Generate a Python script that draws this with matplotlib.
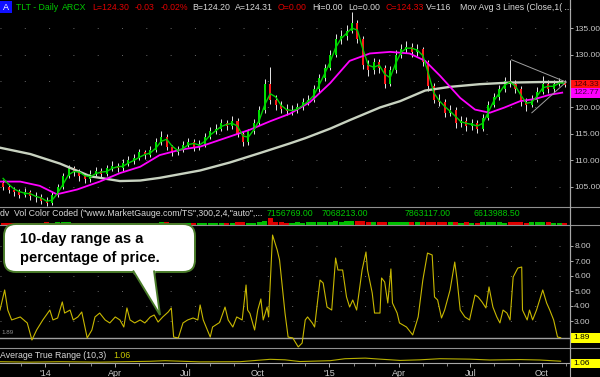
import numpy as np
import pandas as pd
import matplotlib
matplotlib.use("Agg")
import matplotlib.pyplot as plt
import matplotlib.dates as mdates
from matplotlib.patches import FancyBboxPatch, Polygon, Rectangle

plt.rcParams['font.family'] = ['Liberation Sans', 'DejaVu Sans']

# weekly TLT bars (open = previous close), Nov 2013 - Oct 2015
first_open = 105.8
week_close = [105.0, 104.5, 104.0, 103.5, 104.0, 103.2, 103.0, 102.3, 102.0, 103.5,
              105.0, 107.0, 108.5, 107.8, 107.0, 106.5, 107.5, 108.0, 107.5, 108.5,
              109.0, 108.5, 109.5, 110.0, 110.5, 111.5, 111.0, 112.0, 113.5, 114.5,
              112.5, 111.5, 112.0, 113.0, 113.5, 112.5, 113.0, 114.5, 115.5, 116.0,
              117.0, 116.5, 117.5, 115.0, 113.5, 115.5, 117.0, 119.5, 124.5, 121.5,
              120.5, 119.8, 119.3, 119.5, 120.0, 121.0, 121.5, 123.5, 125.5, 127.5,
              130.0, 133.0, 133.5, 134.5, 136.0, 133.0, 128.0, 127.0, 128.5, 127.5,
              124.5, 127.0, 130.0, 131.0, 131.5, 130.5, 131.0, 128.5, 124.0, 121.5,
              121.0, 119.0, 119.5, 117.0, 117.5, 116.5, 117.0, 116.0, 118.0, 120.5,
              122.0, 123.5, 125.0, 124.5, 123.5, 121.0, 120.5, 121.5, 123.0, 124.5,
              123.5, 124.5, 124.8, 124.3]
week_high = [106.3, 105.6, 105.0, 104.6, 104.8, 104.5, 104.0, 103.6, 103.0, 104.0,
             105.6, 107.6, 109.2, 109.0, 108.4, 107.6, 108.2, 108.8, 108.6, 109.1,
             109.8, 109.6, 110.2, 110.8, 111.2, 112.2, 112.0, 112.8, 114.2, 115.5,
             115.0, 113.0, 112.8, 113.7, 114.3, 114.0, 113.8, 115.1, 116.3, 116.8,
             117.8, 117.6, 118.3, 118.0, 115.6, 116.0, 117.8, 120.2, 125.3, 127.6,
             122.3, 121.2, 120.6, 120.4, 120.9, 121.8, 122.4, 124.2, 126.3, 128.3,
             130.9, 133.9, 134.6, 135.6, 138.0, 136.5, 133.5, 128.9, 129.4, 129.2,
             128.0, 127.8, 130.8, 131.9, 132.5, 132.2, 131.9, 131.5, 129.0, 124.6,
             122.5, 121.6, 120.4, 120.0, 118.4, 118.2, 117.9, 117.6, 118.7, 121.2,
             122.8, 124.3, 125.8, 129.0, 125.2, 124.0, 121.8, 122.3, 123.8, 126.0,
             125.2, 125.2, 125.5, 125.2]
week_low = [104.4, 103.9, 103.3, 102.9, 103.0, 102.6, 102.2, 101.7, 101.4, 101.6,
            103.0, 104.6, 106.6, 107.0, 106.2, 105.8, 106.0, 107.0, 106.8, 107.0,
            108.0, 107.8, 108.0, 109.0, 109.4, 110.0, 110.3, 110.6, 111.6, 113.0,
            112.0, 110.8, 111.0, 111.6, 112.5, 111.8, 112.0, 112.6, 114.0, 115.0,
            115.6, 115.8, 116.0, 114.5, 112.8, 113.0, 115.0, 116.6, 119.0, 120.6,
            119.5, 118.9, 118.5, 118.6, 119.0, 119.5, 120.4, 121.0, 123.0, 125.0,
            127.0, 129.5, 132.0, 132.8, 134.0, 132.2, 127.2, 126.0, 126.4, 126.6,
            123.6, 124.0, 126.5, 129.3, 130.3, 129.6, 129.8, 127.8, 123.2, 120.8,
            120.2, 118.2, 118.4, 116.2, 116.4, 115.6, 115.8, 115.2, 115.6, 117.6,
            120.0, 121.5, 123.0, 123.8, 122.8, 120.2, 119.4, 120.0, 121.0, 122.6,
            122.8, 123.0, 124.0, 123.8]
week_volume = [7, 6, 7, 8, 7, 8, 6, 7, 9, 8, 9, 10, 9, 8, 7, 8, 7, 8, 7, 7,
               7, 6, 7, 7, 6, 7, 8, 7, 8, 9, 9, 8, 7, 7, 6, 7, 6, 7, 8, 8,
               8, 7, 7, 9, 9, 8, 8, 9, 12, 22, 11, 9, 8, 8, 9, 8, 9, 10, 9, 10,
               11, 12, 11, 12, 14, 13, 12, 11, 10, 10, 11, 10, 10, 9, 9, 10, 10, 10, 11, 11,
               10, 10, 9, 9, 8, 9, 8, 8, 9, 9, 10, 9, 8, 11, 10, 9, 8, 9, 9, 10,
               9, 8, 8, 7]
green_ma = [106.6, 105.5, 104.6, 104.1, 103.8, 103.7, 103.2, 102.9, 102.3, 102.5,
            103.8, 105.5, 107.3, 107.9, 107.8, 107.1, 106.9, 107.5, 107.8, 107.9,
            108.5, 108.8, 108.9, 109.5, 110.0, 110.6, 111.1, 111.4, 112.3, 113.6,
            114.0, 112.7, 111.9, 112.2, 113.0, 113.2, 112.9, 113.6, 114.8, 115.6,
            116.4, 116.8, 117.0, 116.5, 114.6, 114.4, 115.8, 117.6, 120.5, 122.6,
            122.0, 120.4, 119.6, 119.4, 119.7, 120.4, 121.2, 122.3, 124.3, 126.4,
            128.6, 131.3, 133.0, 134.0, 135.0, 134.6, 131.0, 128.0, 127.6, 128.0,
            126.3, 125.6, 128.3, 130.4, 131.2, 131.2, 130.8, 129.8, 126.5, 122.8,
            121.3, 120.2, 119.3, 118.3, 117.3, 117.0, 116.8, 116.5, 117.0, 119.1,
            121.2, 122.7, 124.2, 124.8, 124.0, 122.3, 120.8, 121.0, 122.2, 123.7,
            124.0, 124.0, 124.6, 124.6]

# longer averages, days since 2013-11-04
magenta_day = [0, 26, 51, 73, 99, 128, 154, 180, 205, 231, 257, 289, 321, 347, 372, 398,
               424, 449, 475, 501, 526, 546, 565, 591, 610, 629, 648, 668, 687, 706, 722]
magenta_ma = [106.0, 106.0, 105.2, 103.6, 104.5, 106.0, 107.6, 108.8, 111.0, 112.0, 112.6,
              114.2, 115.8, 117.4, 118.8, 121.0, 124.6, 128.8, 130.2, 130.5, 130.2, 128.8,
              126.0, 121.8, 119.6, 119.0, 120.0, 121.2, 121.6, 122.4, 122.8]
gray_day = [0, 39, 77, 116, 154, 180, 205, 231, 257, 295, 334, 372, 392, 424, 449, 488,
            514, 546, 578, 616, 655, 693, 722]
gray_ma = [112.4, 111.2, 109.4, 107.0, 106.1, 106.2, 106.7, 107.4, 108.1, 109.6, 111.4,
           113.2, 114.2, 116.0, 117.6, 120.0, 121.2, 123.2, 123.9, 124.4, 124.7, 124.8, 124.8]

tri_upper_day = [657, 727]
tri_upper = [129.0, 124.8]
tri_lower_day = [683, 727]
tri_lower = [119.0, 124.8]

# 10-day range as % of price
range_day = [0, 6, 10, 15, 26, 35, 41, 47, 55, 64, 68, 74, 80, 83, 90, 94, 100, 105, 112, 118,
             122, 128, 135, 141, 148, 154, 159, 163, 167, 173, 180, 186, 193, 198, 203, 209, 216,
             220, 223, 229, 235, 241, 248, 254, 257, 261, 270, 273, 282, 289, 293, 299, 304, 311,
             316, 318, 321, 327, 331, 335, 338, 343, 345, 350, 356, 359, 362, 366, 370, 376, 383,
             388, 392, 395, 401, 404, 411, 415, 420, 426, 431, 434, 440, 445, 449, 453, 458, 465,
             470, 472, 478, 481, 488, 490, 494, 498, 502, 504, 510, 513, 522, 530, 537, 543, 549,
             555, 558, 562, 567, 571, 578, 584, 587, 591, 597, 603, 610, 614, 619, 624, 628, 633,
             638, 642, 646, 651, 655, 659, 665, 670, 671, 677, 680, 684, 689, 693, 697, 702, 706,
             711, 716, 720]
range_pct = [3.73, 5.07, 3.73, 3.07, 3.27, 2.87, 1.73, 2.4, 3.07, 3.73, 3.07, 3.2, 4.27, 3.53,
             3.73, 3.07, 3.27, 3.6, 1.87, 2.4, 3.27, 3.53, 3.07, 2.87, 3.27, 3.07, 2.6, 3.87,
             3.07, 2.87, 3.07, 2.87, 3.27, 3.4, 2.93, 3.27, 3.6, 3.87, 1.93, 1.87, 2.87, 3.07,
             3.2, 3.07, 4.07, 3.07, 1.93, 2.6, 2.9, 3.93, 3.07, 2.6, 3.27, 3.07, 5.4, 3.73, 3.5,
             2.4, 3.73, 4.47, 3.07, 3.93, 3.27, 8.73, 7.73, 7.07, 5.53, 3.53, 1.93, 1.87, 1.27,
             1.53, 3.07, 3.27, 2.87, 2.6, 5.73, 5.53, 3.93, 3.73, 7.2, 6.4, 6.4, 4.6, 3.93, 4.4,
             3.73, 6.4, 7.6, 6.4, 4.87, 3.53, 3.53, 5.87, 5.6, 4.2, 6.47, 4.2, 3.53, 2.87, 2.6,
             2.07, 3.27, 5.73, 7.53, 7.4, 4.6, 4.4, 3.2, 3.73, 5.07, 6.93, 5.73, 3.73, 3.27, 3.07,
             4.73, 4.6, 4.27, 3.87, 5.27, 3.93, 3.27, 2.87, 3.73, 3.53, 3.07, 5.93, 6.53, 6.6,
             3.73, 3.07, 3.73, 3.07, 3.73, 4.4, 5.07, 4.2, 3.73, 3.07, 1.93, 1.89]

atr_day = [0, 39, 77, 128, 193, 212, 257, 308, 347, 366, 385, 424, 443, 469, 488, 514, 539,
           565, 603, 629, 668, 693, 712, 720]
atr_val = [1.0, 0.95, 1.0, 0.95, 1.05, 1.12, 0.98, 1.0, 1.28, 1.22, 1.02, 1.12, 1.35, 1.42,
           1.3, 1.15, 1.22, 1.35, 1.3, 1.2, 1.25, 1.2, 1.1, 1.06]

price_ticks = [105, 110, 115, 120, 125, 130, 135]
range_ticks = [3, 4, 5, 6, 7, 8]
quarter_dates = ["2014-01-01", "2014-04-01", "2014-07-01", "2014-10-01",
                 "2015-01-01", "2015-04-01", "2015-07-01", "2015-10-01"]
quarter_labels = ["'14", "Apr", "Jul", "Oct", "'15", "Apr", "Jul", "Oct"]
vol_numbers = ["7156769.00", "7068213.00", "7863117.00", "6613988.50"]

W, H = 600, 377
GREEN, RED, LIGHT, GRID = '#00c800', '#e00000', '#d8d8d8', '#6a6a6a'
t0 = pd.Timestamp("2013-11-04")


def to_dates(days):
    return t0 + pd.to_timedelta(days, unit="D")


def box(x0, y0, x1, y1):
    return [x0 / W, 1 - y1 / H, (x1 - x0) / W, (y1 - y0) / H]


def value_box(ax, val, text, fc, tc, h):
    tr = ax.get_yaxis_transform()
    ax.add_patch(Rectangle((1.0, val - h / 2), 30 / 570, h, transform=tr, facecolor=fc,
                           edgecolor='none', clip_on=False, zorder=6))
    if text:
        ax.text(1.005, val, text, transform=tr, color=tc, fontsize=6.0, va='center',
                ha='left', clip_on=False, zorder=7)


fig = plt.figure(figsize=(W / 100, H / 100), dpi=100, facecolor='black')
ax_p = fig.add_axes(box(0, 0, 570, 207))
ax_v = fig.add_axes(box(0, 207, 570, 225), sharex=ax_p)
ax_r = fig.add_axes(box(0, 225, 570, 348), sharex=ax_p)
ax_a = fig.add_axes(box(0, 348, 570, 363), sharex=ax_p)

for ax in (ax_p, ax_v, ax_r, ax_a):
    ax.set_facecolor('black')
    for side, sp in ax.spines.items():
        sp.set_visible(side == 'right')
    ax.spines['right'].set_color('#a8a8a8')
    ax.spines['right'].set_linewidth(0.8)
    ax.yaxis.tick_right()
    ax.tick_params(axis='y', colors='#c8c8c8', labelsize=6.0, length=2.5, width=0.6, pad=0.5)
    ax.tick_params(axis='x', which='both', bottom=False, labelbottom=False)

# price panel
wk = pd.date_range("2013-11-08", periods=len(week_close), freq="7D")
c = np.array(week_close)
o = np.array([first_open] + week_close[:-1])
up = c >= o
ax_p.vlines(wk, week_low, week_high, color='#e8e8e8', lw=0.7, zorder=2)
ax_p.bar(wk, np.maximum(np.abs(c - o), 0.25), bottom=np.minimum(o, c), width=2.6,
         color=np.where(up, '#00e000', '#ff1a1a'), linewidth=0, zorder=3)
ax_p.plot(to_dates(gray_day), gray_ma, color='#c8d2c0', lw=1.7, zorder=4)
ax_p.plot(to_dates(magenta_day), magenta_ma, color='#ff00ff', lw=1.3, zorder=4)
ax_p.plot(wk, green_ma, color='#00d000', lw=1.0, zorder=5)
ax_p.plot(to_dates(tri_upper_day), tri_upper, color='#a0a0a0', lw=0.7, zorder=5)
ax_p.plot(to_dates(tri_lower_day), tri_lower, color='#a0a0a0', lw=0.7, zorder=5)
ax_p.set_ylim(101.2, 140.3)
ax_p.set_yticks(price_ticks)
# the 125.00 label sits behind the last-price box, as in the original
ax_p.set_yticklabels(["" if v == 125 else f"{v:.2f}" for v in price_ticks])
ax_p.grid(axis='y', color=GRID, linestyle=(0, (1, 24)), linewidth=0.7, zorder=0)
value_box(ax_p, green_ma[-1] - 0.6, "", '#00c800', 'black', 1.7)
value_box(ax_p, 124.33, "124.33", '#ff1010', '#500000', 1.7)
value_box(ax_p, 122.77, "122.77", '#ff00ff', '#400040', 1.8)

# volume strip
ax_v.bar(wk, week_volume, width=6.5, color=np.where(up, '#00c000', '#e00000'), linewidth=0)
ax_v.set_ylim(0, 60)
ax_v.set_yticks([])

# range panel
ax_r.plot(to_dates(range_day), range_pct, color='#c8b800', lw=0.8, zorder=3)
ax_r.axhline(range_pct[-1], color='#a0a0a0', lw=1.0, zorder=2)
ax_r.set_ylim(1.2, 9.4)
ax_r.set_yticks(range_ticks)
ax_r.set_yticklabels([f"{v:.2f}" for v in range_ticks])
ax_r.grid(axis='y', color=GRID, linestyle=(0, (1, 24)), linewidth=0.7, zorder=0)
value_box(ax_r, range_pct[-1], f"{range_pct[-1]:.2f}", '#ffff00', 'black', 0.67)

# ATR panel
ax_a.plot(to_dates(atr_day), atr_val, color='#b8b000', lw=0.8)
ax_a.set_ylim(0.85, 2.6)
ax_a.set_yticks([])
value_box(ax_a, atr_val[-1] - 0.25, f"{atr_val[-1]:.2f}", '#ffff00', 'black', 1.1)
ax_a.spines['bottom'].set_visible(True)
ax_a.spines['bottom'].set_color('#a8a8a8')
ax_a.spines['bottom'].set_linewidth(0.8)
ax_a.set_xticks(pd.to_datetime(quarter_dates))
ax_a.set_xticklabels(quarter_labels)
ax_a.xaxis.set_minor_locator(mdates.MonthLocator())
ax_a.tick_params(axis='x', which='major', bottom=True, labelbottom=True, colors='#c8c8c8',
                 labelsize=6.5, length=3, width=0.6, pad=1)
ax_a.tick_params(axis='x', which='minor', bottom=True, colors='#a0a0a0', length=2, width=0.6)
ax_a.set_xlim(t0, t0 + pd.Timedelta(days=732))

# overlay in pixel units for the header texts, separators and the callout
ov = fig.add_axes([0, 0, 1, 1])
ov.set_xlim(0, W)
ov.set_ylim(H, 0)
ov.axis('off')
ov.patch.set_alpha(0)

for yy in (207, 225, 348):
    ov.plot([0, W], [yy, yy], color='#909090', lw=0.8)
ov.plot([570, 570], [0, H], color='#a8a8a8', lw=0.8)

ov.add_patch(Rectangle((0, 1), 12, 12, facecolor='#1010ff', edgecolor='none'))
ov.text(6, 7, "A", color='white', fontsize=6.5, ha='center', va='center')
header = [("TLT - Daily", 16, GREEN), ("ARCX", 62, GREEN), ("L=124.30", 92, RED),
          ("-0.03", 135, RED), ("-0.02%", 161, RED), ("B=124.20", 192, LIGHT),
          ("A=124.31", 235, LIGHT), ("O=0.00", 278, RED), ("Hi=0.00", 312, LIGHT),
          ("Lo=0.00", 348, LIGHT), ("C=124.33", 385, RED), ("V=116", 426, LIGHT),
          ("Mov Avg 3 Lines (Close,1( ...", 460, LIGHT)]
for txt, x, col in header:
    ov.text(x, 7, txt, color=col, fontsize=6.3, ha='left', va='center')

ov.text(0, 213.5, 'dv  Vol Color Coded ("www.MarketGauge.com/TS",300,2,4,"auto",...',
        color=LIGHT, fontsize=6.3, ha='left', va='center')
for txt, x in zip(vol_numbers, [267, 322, 405, 474]):
    ov.text(x, 213.5, txt, color=GREEN, fontsize=6.3, ha='left', va='center')

ov.text(0, 355, "Average True Range (10,3)", color=LIGHT, fontsize=6.3, ha='left', va='center')
ov.text(113, 355, f"{atr_val[-1]:.2f}", color='#c8c800', fontsize=6.3, ha='left', va='center')
ov.text(1, 333, f"{range_pct[-1]:.2f}", color='#909090', fontsize=4.5, ha='left', va='center')

# speech bubble
edge = '#4a7c2a'
ov.add_patch(FancyBboxPatch((4, 224), 191, 48, boxstyle="round,pad=0,rounding_size=12",
                            facecolor='white', edgecolor=edge, lw=1.4, zorder=5))
ov.plot([134.5, 152.5], [272, 272], color='white', lw=2.5, zorder=6)
ov.add_patch(Polygon([(133, 270.5), (160, 315), (154, 270.5)], closed=False,
                     facecolor='white', edgecolor=edge, lw=1.4, zorder=7))
ov.text(20, 239, "10-day range as a", color='black', fontsize=10.5, fontweight='bold',
        ha='left', va='center', zorder=8)
ov.text(20, 258, "percentage of price.", color='black', fontsize=10.5, fontweight='bold',
        ha='left', va='center', zorder=8)

fig.savefig("out.png", dpi=100, facecolor='black')
